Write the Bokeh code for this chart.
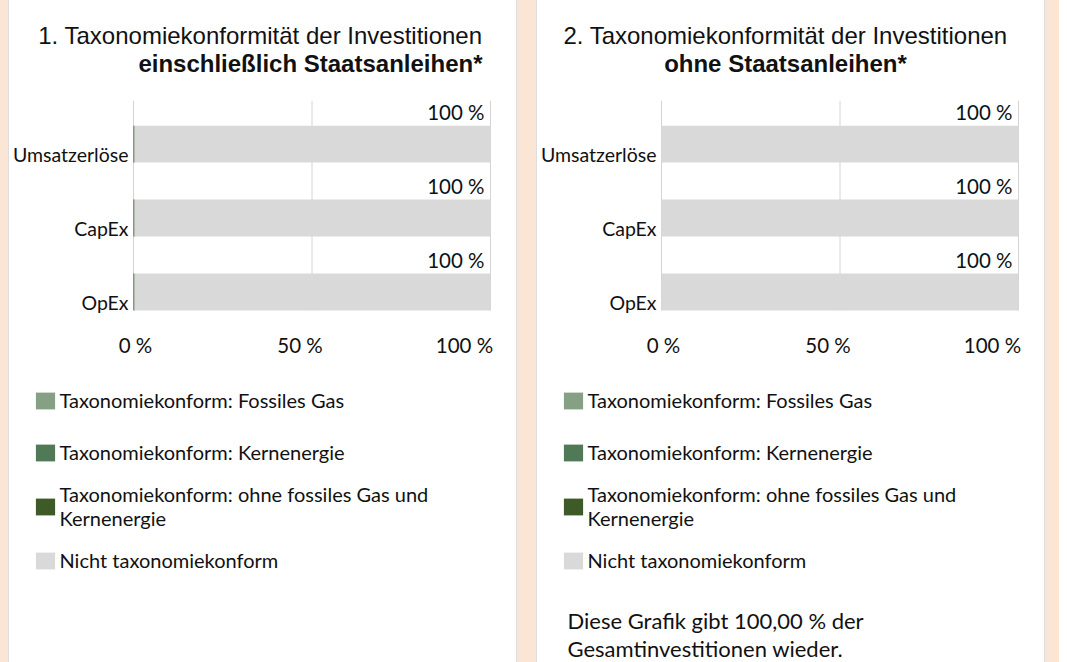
from bokeh.plotting import figure
from bokeh.models import (Range1d, LinearAxis, FixedTicker, Label, Legend,
                          LegendItem, PrintfTickFormatter, Spacer, ColumnDataSource)
from bokeh.layouts import row, column
from bokeh.embed import file_html
from bokeh.resources import INLINE
from bokeh.core.properties import value

# ---------------- data ----------------
categories = ["Umsatzerlöse", "CapEx", "OpEx"]
category_pos = [2, 1, 0]
series_keys = ["gas", "nuclear", "other", "not_aligned"]
series_labels = ["Taxonomiekonform: Fossiles Gas",
                 "Taxonomiekonform: Kernenergie",
                 "Taxonomiekonform: ohne fossiles Gas und\nKernenergie",
                 "Nicht taxonomiekonform"]
series_colors = ["#86a085", "#507a57", "#3d5a27", "#d9d9d9"]

# chart 1: including sovereign bonds (values in %)
incl_gas = [0.0, 0.0, 0.0]
incl_nuclear = [0.0, 0.0, 0.0]
incl_other = [0.3, 0.3, 0.3]
incl_not = [99.7, 99.7, 99.7]

# chart 2: excluding sovereign bonds (values in %)
excl_gas = [0.0, 0.0, 0.0]
excl_nuclear = [0.0, 0.0, 0.0]
excl_other = [0.0, 0.0, 0.0]
excl_not = [100.0, 100.0, 100.0]

x_ticks = [0, 50, 100]

title1_a = "1. Taxonomiekonformität der Investitionen"
title1_b = "einschließlich Staatsanleihen*"
title2_a = "2. Taxonomiekonformität der Investitionen"
title2_b = "ohne Staatsanleihen*"
note_lines = ["Diese Grafik gibt 100,00 % der", "Gesamtinvestitionen wieder."]

# ---------------- styling / layout constants ----------------
PEACH = "#fbe6d5"
TXT = "#111111"
GRID = "#d4d4d4"
PW = 507
H_TITLE, H_CHART, H_LEG = 85, 282, 295
BODY_FONT = "Lato"
TITLE_FONT = "Liberation Sans"
PLOT_L, PLOT_R = 124, 481      # pixel span of the 0..100 % scale inside a panel
LBL_L, LBL_R = 126, 455        # where Excel puts the 0 % / 100 % axis labels
BAR_H = 0.5
Y_RANGE = (-0.358, 2.59)

k = 100.0 / (PLOT_R - PLOT_L)
X_RANGE = (-PLOT_L * k, 100 + (PW - PLOT_R) * k)
k2 = 100.0 / (LBL_R - LBL_L)
LBL_RANGE = (-LBL_L * k2, 100 + (PW - LBL_R) * k2)


def blank_fig(h):
    return figure(width=PW, height=h, output_backend="svg", toolbar_location=None,
                  x_range=Range1d(0, 100), y_range=Range1d(10, 11),
                  x_axis_type=None, y_axis_type=None,
                  min_border=0, min_border_left=0, min_border_right=0,
                  min_border_top=0, min_border_bottom=0,
                  background_fill_color="white", border_fill_color="white",
                  outline_line_color=None)


def add_stack(fig, src):
    stack_order = ["other", "nuclear", "gas", "not_aligned"]
    col = dict(zip(series_keys, series_colors))
    rends = fig.hbar_stack(stack_order, y="pos", height=BAR_H, source=src,
                           color=[col[s] for s in stack_order], line_color=None)
    return dict(zip(stack_order, rends))


def make_panel(t_a, t_b, title_align, gas, nuclear, other, not_aligned, note=None):
    src = ColumnDataSource(dict(pos=category_pos, cat=categories, gas=gas,
                                nuclear=nuclear, other=other, not_aligned=not_aligned,
                                lbl=[f"{v:.0f} %" for v in not_aligned]))

    # ---- title block ----
    tf = blank_fig(H_TITLE)
    if title_align == "right":
        tx, ta = 473, "right"
    else:
        tx, ta = 248, "center"
    tf.add_layout(Label(x=tx, y=H_TITLE - 35, x_units="screen", y_units="screen", text=t_a,
                        text_align=ta, text_baseline="middle", text_font=TITLE_FONT,
                        text_font_size="24px", text_color=TXT))
    tf.add_layout(Label(x=tx, y=H_TITLE - 63, x_units="screen", y_units="screen", text=t_b,
                        text_align=ta, text_baseline="middle", text_font=TITLE_FONT,
                        text_font_size="24px", text_font_style="bold", text_color=TXT))

    # ---- chart ----
    p = figure(width=PW, height=H_CHART, output_backend="svg", toolbar_location=None,
               x_range=Range1d(*X_RANGE), y_range=Range1d(*Y_RANGE),
               x_axis_type=None, y_axis_type=None,
               min_border_left=0, min_border_right=0,
               min_border_top=15, min_border_bottom=49,
               background_fill_color="white", border_fill_color="white",
               outline_line_color=None)
    # vertical gridlines, from the top of the plot area down to the lowest bar
    y_lo = min(category_pos) - BAR_H / 2
    p.segment(x0=x_ticks, x1=x_ticks, y0=[y_lo] * len(x_ticks),
              y1=[Y_RANGE[1]] * len(x_ticks), line_color=GRID, line_width=1)
    add_stack(p, src)
    # value labels above the bars
    p.text(x=100, y="pos", text="lbl", source=src, text_align="right",
           text_baseline="middle", x_offset=-6, y_offset=-32.5,
           text_font=value(BODY_FONT), text_font_size="20.5px", text_color=TXT)
    # category labels left of the bars
    p.text(x=0, y="pos", text="cat", source=src, text_align="right",
           text_baseline="middle", x_offset=-5, y_offset=10.5,
           text_font=value(BODY_FONT), text_font_size="19.5px", text_color=TXT)

    p.extra_x_ranges = {"lbl": Range1d(*LBL_RANGE)}
    xax = LinearAxis(x_range_name="lbl", ticker=FixedTicker(ticks=x_ticks),
                     formatter=PrintfTickFormatter(format="%d %%"),
                     axis_line_color=None, major_tick_line_color=None,
                     major_tick_in=0, major_tick_out=0,
                     minor_tick_line_color=None, major_label_standoff=14,
                     major_label_text_font=BODY_FONT,
                     major_label_text_font_size="20.5px",
                     major_label_text_color=TXT)
    p.add_layout(xax, "below")

    # ---- legend block ----
    lf = blank_fig(H_LEG)
    lrend = add_stack(lf, src)   # same series, outside the visible range: legend proxies
    items = [LegendItem(label=lab, renderers=[lrend[s]]) for s, lab in zip(series_keys, series_labels)]
    legend = Legend(items=items, location=(23.5, 80), orientation="vertical",
                    glyph_width=24, glyph_height=21, label_standoff=3, spacing=8,
                    padding=0, margin=0, border_line_color=None,
                    background_fill_alpha=0, label_height=44,
                    label_text_font=BODY_FONT, label_text_font_size="20px",
                    label_text_color=TXT, label_text_line_height=1.05)
    lf.add_layout(legend)
    if note:
        for i, line in enumerate(note):
            lf.add_layout(Label(x=30, y=42 - 28 * i, x_units="screen", y_units="screen",
                                text=line, text_align="left", text_baseline="middle",
                                text_font=BODY_FONT, text_font_size="22px",
                                text_color=TXT))

    return column(tf, p, lf, spacing=0,
                  styles={"background-color": "white",
                          "box-shadow": "0 0 0 1px #dedede"})


p1 = make_panel(title1_a, title1_b, "right", incl_gas, incl_nuclear, incl_other, incl_not)
p2 = make_panel(title2_a, title2_b, "center", excl_gas, excl_nuclear, excl_other, excl_not,
                note=note_lines)

H = H_TITLE + H_CHART + H_LEG
layout = row(Spacer(width=9, height=H), p1, Spacer(width=21, height=H), p2,
             Spacer(width=15, height=H), spacing=0,
             styles={"background-color": PEACH})

open("out.html", "w").write(file_html(layout, INLINE))
